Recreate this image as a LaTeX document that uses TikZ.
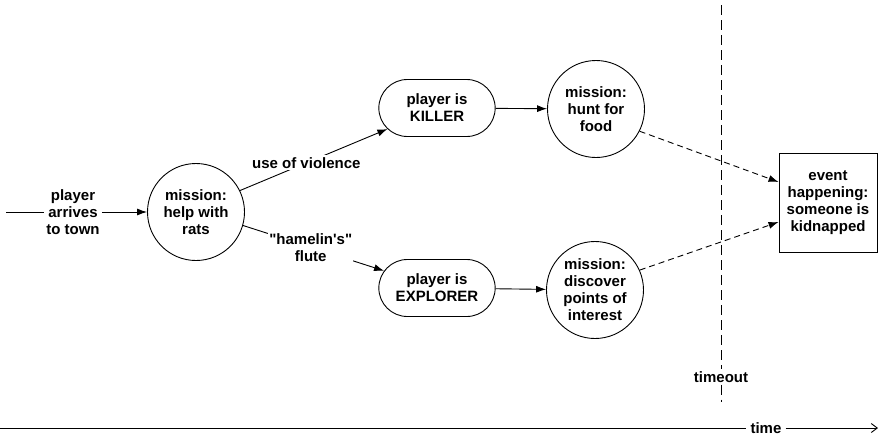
\documentclass[tikz,border=0pt]{standalone}
\usepackage{fontspec}
\setmainfont{Liberation Sans}[Ligatures=TeXOff]
\usetikzlibrary{shapes.misc,arrows.meta}
\begin{document}
\begin{tikzpicture}[x=1pt,y=-1pt,
  font=\fontsize{15}{17}\selectfont\bfseries,
  every node/.style={align=center},
  mission/.style={circle,draw,line width=0.9pt,minimum size=97pt,inner sep=0pt},
  role/.style={rounded rectangle,draw,line width=0.9pt,minimum width=123pt,minimum height=57pt},
  eventbox/.style={rectangle,draw,line width=0.9pt,minimum width=98pt,minimum height=99pt,inner sep=1pt},
  tag/.style={fill=white,inner sep=2pt},
  flow/.style={line width=0.9pt,-{Latex[length=10pt,width=7pt]}},
  later/.style={flow,dash pattern=on 6pt off 4pt},
  plain/.style={line width=0.9pt}]
\useasboundingbox (0,0) rectangle (879,437);

% story nodes
\coordinate (enter) at (6,212);
\node[tag] (arrive) at (73,212) {player\\arrives\\to town};
\node[mission] (help) at (196,212) {mission:\\help with\\rats};
\node[role] (killer) at (437,108) {player is\\KILLER};
\node[role] (explorer) at (437,288) {player is\\EXPLORER};
\node[mission] (hunt) at (596,109) {mission:\\hunt for\\food};
\node[mission] (discover) at (595,290) {mission:\\discover\\points of\\interest};
\node[eventbox] (event) at (828,203) {event\\happening:\\someone is\\kidnapped};

% timeout marker
\coordinate (ttop) at (721,5);
\coordinate (tbot) at (721,402);
\node[tag] (timeout) at (721,377) {timeout};
\draw[plain,dash pattern=on 10pt off 5pt] (ttop) -- (timeout);
\draw[plain,dash pattern=on 10pt off 5pt] (timeout) -- (tbot);

% time axis
\coordinate (tstart) at (0,428);
\coordinate (tend) at (878,428);
\node[tag,inner sep=4pt] (timelbl) at (766,428) {time};
\draw[plain] (tstart) -- (timelbl);
\draw[plain,-{Straight Barb[length=6pt,width=9pt]}] (timelbl) -- (tend);

% connectors
\draw[plain] (enter) -- (arrive);
\draw[flow] (arrive) -- (help);
\draw[flow] (help.26) -- node[tag,pos=0.45] (violence) {use of violence} (killer.203);
\draw[flow] (help.-16) -- node[tag,pos=0.48,inner sep=1pt] (flute) {"hamelin's"\\flute} (explorer.162);
\draw[flow] (killer) -- (hunt);
\draw[flow] (explorer) -- (discover);
\draw[later] (hunt.-27) -- ([yshift=21pt]event.west);
\draw[later] (discover.24) -- ([yshift=-19pt]event.west);
\end{tikzpicture}
\end{document}
